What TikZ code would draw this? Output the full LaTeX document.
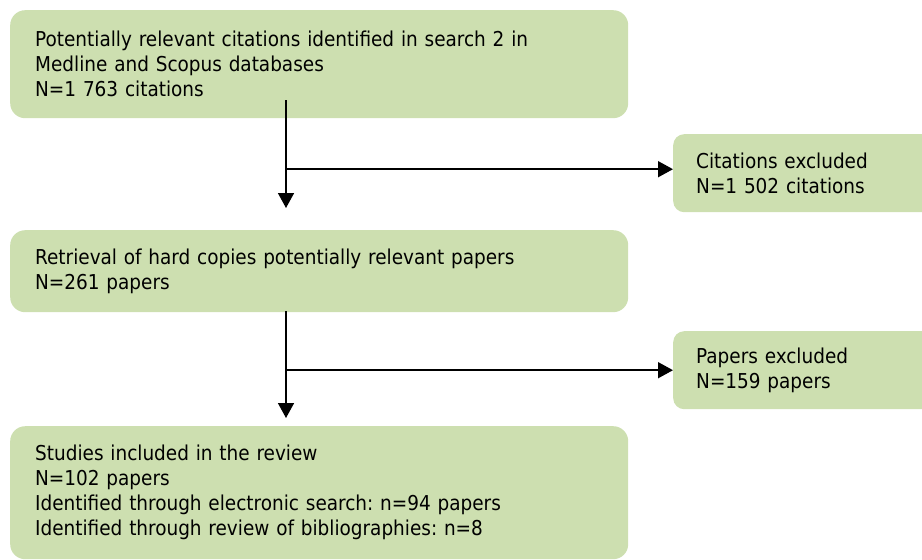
\documentclass[tikz,border=0pt]{standalone}
\usepackage{fontspec}
\setmainfont{DejaVu Sans Condensed}
\usetikzlibrary{arrows.meta}
\definecolor{boxgreen}{RGB}{205,223,176}
\frenchspacing
\begin{document}
\begin{tikzpicture}[x=1pt,y=-1pt,
  box/.style={fill=boxgreen,rounded corners=15pt,align=left,anchor=north west,
    inner xsep=25pt,inner ysep=0pt,font=\fontsize{20.5}{25}\selectfont},
  mainbox/.style={box,minimum width=618pt,text width=568pt},
  sidebox/.style={box,rounded corners=11pt,inner xsep=23pt,minimum width=270pt,
    text width=224pt,minimum height=78pt},
  arr/.style={line width=1.6pt,-{Triangle[length=15pt,width=16pt]}}]
\useasboundingbox (0,0) rectangle (922,560);
\clip (0,0) rectangle (922,560);
\node[mainbox,minimum height=108pt] (search) at(10,10) {Potentially relevant citations identified in search 2 in\\Medline and Scopus databases\\N=1 763 citations};
\node[sidebox] (citexcl) at(673,134) {Citations excluded\\N=1 502 citations};
\node[mainbox,minimum height=82pt] (hardcopy) at(10,230) {Retrieval of hard copies potentially relevant papers\\N=261 papers};
\node[sidebox] (papexcl) at(673,331) {Papers excluded\\N=159 papers};
\node[mainbox,minimum height=133pt] (included) at(10,426) {Studies included in the review\\N=102 papers\\Identified through electronic search: n=94 papers\\Identified through review of bibliographies: n=8};
\coordinate (s1) at(286,100);
\coordinate (j1) at([yshift=4pt]citexcl.west);
\draw[arr,shorten >=22pt] (s1) -- (s1 |- hardcopy.north);
\draw[arr] (s1 |- j1) -- (j1);
\coordinate (s2) at(286,311);
\draw[arr,shorten >=8pt] (s2) -- (s2 |- included.north);
\draw[arr] (s2 |- papexcl.west) -- (papexcl.west);
\end{tikzpicture}
\end{document}
